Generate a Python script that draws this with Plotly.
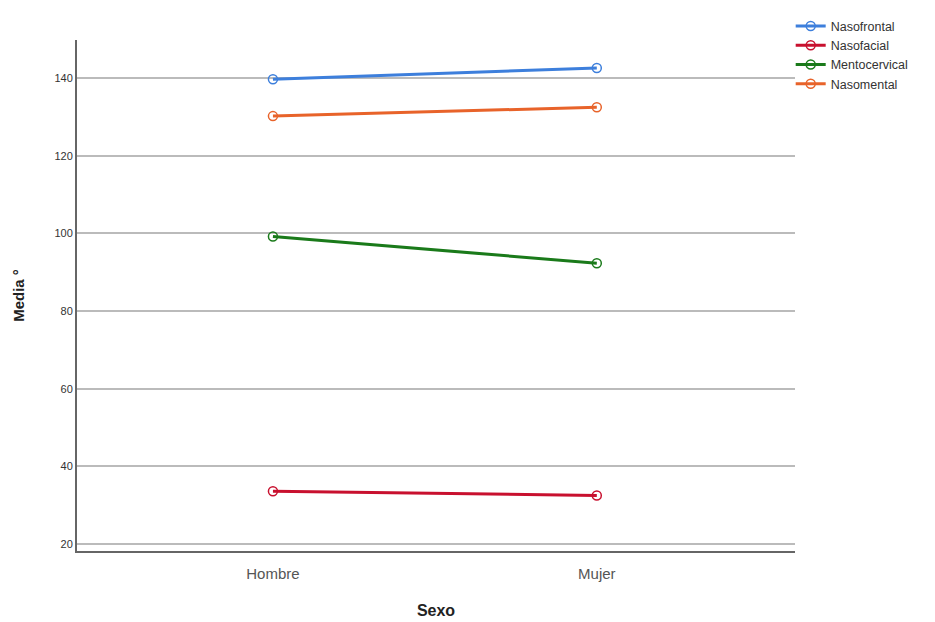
import plotly.graph_objects as go

categories = ["Hombre", "Mujer"]
series_names = ["Nasofrontal", "Nasofacial", "Mentocervical", "Nasomental"]
nasofrontal = [139.7, 142.6]
nasofacial = [33.6, 32.5]
mentocervical = [99.2, 92.3]
nasomental = [130.2, 132.5]
y_ticks = [20, 40, 60, 80, 100, 120, 140]

values = [nasofrontal, nasofacial, mentocervical, nasomental]
colors = ["#3d7fdc", "#c8102e", "#1a7a1a", "#e8632a"]

fig = go.Figure()
for name, vals, col in zip(series_names, values, colors):
    fig.add_trace(go.Scatter(
        x=[0, 1], y=vals, name=name, mode="lines+markers",
        line=dict(color=col, width=3),
        marker=dict(symbol="circle-open", size=9, color=col, line=dict(width=1.5, color=col)),
    ))

fig.update_layout(
    width=935, height=622,
    margin=dict(l=69, r=148, t=32, b=79, autoexpand=False),
    plot_bgcolor="white", paper_bgcolor="white",
    font=dict(family="Liberation Sans, Arial, sans-serif", color="#333"),
    legend=dict(x=0.994, y=1.056, xanchor="left", yanchor="top",
                font=dict(size=12.5, color="#333"), tracegroupgap=0,
                itemwidth=30, bgcolor="rgba(0,0,0,0)"),
    xaxis=dict(
        range=[-0.605, 1.612], tickmode="array", tickvals=[0, 1], ticktext=categories,
        showgrid=False, zeroline=False, showline=True, linecolor="#666", linewidth=2,
        ticks="", ticklabelstandoff=8, tickfont=dict(size=15, color="#555"),
        automargin=False,
        title=dict(text="<b>Sexo</b>", font=dict(size=16, color="#222"), standoff=24),
    ),
    yaxis=dict(
        range=[18.2, 149.8], tickmode="array", tickvals=y_ticks,
        showgrid=True, gridcolor="#bbbbbb", gridwidth=1.5, zeroline=False,
        showline=True, linecolor="#666", linewidth=2, ticks="",
        tickfont=dict(size=11, color="#333"), automargin=False,
        title=dict(text="<b>Media °</b>", font=dict(size=15, color="#222"), standoff=26),
    ),
)

fig.write_html("out.html")
